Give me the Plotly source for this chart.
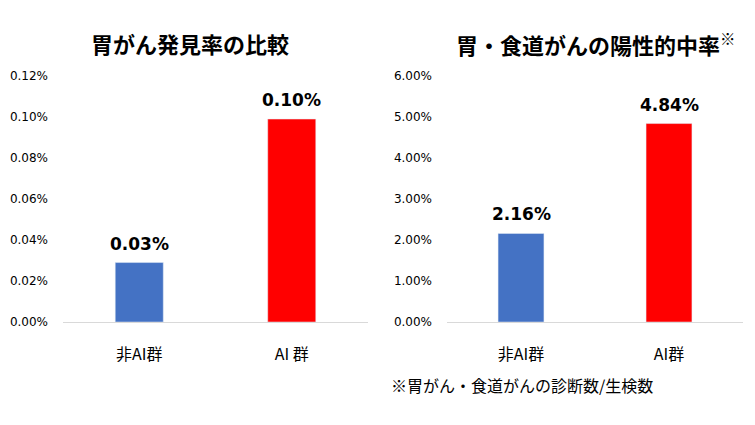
import plotly.graph_objects as go

# ---- data ----
left_categories = ["非AI群", "AI 群"]
left_values = [0.029, 0.099]          # % (stomach cancer detection rate)
left_ticks = [0, 0.02, 0.04, 0.06, 0.08, 0.10, 0.12]

right_categories = ["非AI群", "AI群"]
right_values = [2.16, 4.84]            # % (positive predictive value)
right_ticks = [0, 1, 2, 3, 4, 5, 6]

bar_colors = ["#4472C4", "#FF0000"]

left_title = "胃がん発見率の比較"
right_title = "胃・食道がんの陽性的中率<sup>※</sup>"
footnote = "※胃がん・食道がんの診断数/生検数"

W, H = 755, 425
OFF = 8  # page body offset
LAT = "DejaVu Sans, Noto Sans CJK JP, sans-serif"
CJK = "Noto Sans CJK JP, DejaVu Sans, sans-serif"

def px_x(x):
    return (x - OFF) / W

def px_y(y):
    return 1 - (y - OFF) / H

fig = go.Figure()
fig.add_trace(go.Bar(x=left_categories, y=left_values, marker_color=bar_colors,
                     width=0.315, xaxis="x", yaxis="y", showlegend=False,
                     hoverinfo="skip"))
fig.add_trace(go.Bar(x=right_categories, y=right_values, marker_color=bar_colors,
                     width=0.31, xaxis="x2", yaxis="y2", showlegend=False,
                     hoverinfo="skip"))

annotations = []
for c, v in zip(left_categories, left_values):
    annotations.append(dict(x=c, y=v, xref="x", yref="y", text=f"{v:.2f}%",
                            showarrow=False, yanchor="bottom", yshift=7,
                            font=dict(family=LAT, size=17, color="#000000", weight="bold")))
for c, v in zip(right_categories, right_values):
    annotations.append(dict(x=c, y=v, xref="x2", yref="y2", text=f"{v:.2f}%",
                            showarrow=False, yanchor="bottom", yshift=7,
                            font=dict(family=LAT, size=17, color="#000000", weight="bold")))

annotations.append(dict(x=px_x(190), y=px_y(43), xref="paper", yref="paper",
                        text=f"<b>{left_title}</b>", showarrow=False,
                        xanchor="center", yanchor="middle",
                        font=dict(family=CJK, size=22, color="#000000")))
annotations.append(dict(x=px_x(454), y=px_y(43), xref="paper", yref="paper",
                        text=f"<b>{right_title}</b>", showarrow=False,
                        xanchor="left", yanchor="middle",
                        font=dict(family=CJK, size=22, color="#000000")))
annotations.append(dict(x=px_x(389), y=px_y(385), xref="paper", yref="paper",
                        text=footnote, showarrow=False,
                        xanchor="left", yanchor="middle",
                        font=dict(family=CJK, size=16, color="#000000")))

y_bottom, y_top = px_y(322), px_y(76)

left_ticktext = [f"{t:.2f}%" for t in left_ticks]
right_ticktext = [f"{t:.2f}%" for t in right_ticks]

fig.update_layout(
    width=W, height=H,
    margin=dict(l=0, r=0, t=0, b=0, autoexpand=False),
    paper_bgcolor="white", plot_bgcolor="white",
    annotations=annotations,
    xaxis=dict(domain=[px_x(63), px_x(368)], anchor="y", automargin=False,
               showline=True, linecolor="#D9D9D9", linewidth=1,
               showgrid=False, ticks="", ticklabelstandoff=18,
               tickfont=dict(family=CJK, size=16, color="#000000")),
    yaxis=dict(domain=[y_bottom, y_top], anchor="x", range=[0, 0.12], automargin=False,
               tickvals=left_ticks, ticktext=left_ticktext,
               showgrid=False, zeroline=False, showline=False, ticks="",
               ticklabelstandoff=14,
               tickfont=dict(family=LAT, size=12, color="#000000")),
    xaxis2=dict(domain=[px_x(447), px_x(743)], anchor="y2", automargin=False,
                showline=True, linecolor="#D9D9D9", linewidth=1,
                showgrid=False, ticks="", ticklabelstandoff=18,
                tickfont=dict(family=CJK, size=16, color="#000000")),
    yaxis2=dict(domain=[y_bottom, y_top], anchor="x2", range=[0, 6], automargin=False,
                tickvals=right_ticks, ticktext=right_ticktext,
                showgrid=False, zeroline=False, showline=False, ticks="",
                ticklabelstandoff=14,
                tickfont=dict(family=LAT, size=12, color="#000000")),
)

fig.write_html("out.html")
